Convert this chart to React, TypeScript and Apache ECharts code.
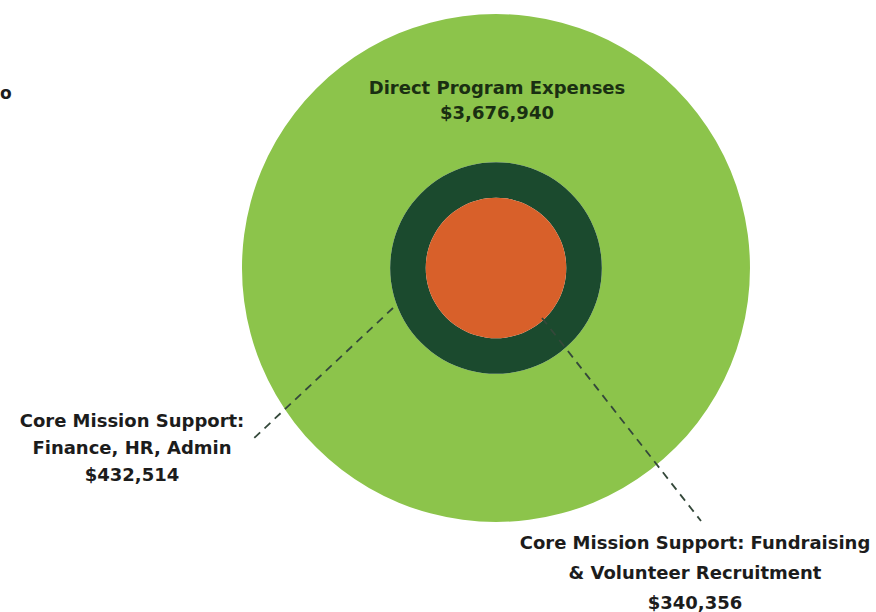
import React, { useEffect, useRef } from "react";
import * as echarts from "echarts";

// Data
const categories = [
  "Direct Program Expenses",
  "Core Mission Support: Finance, HR, Admin",
  "Core Mission Support: Fundraising & Volunteer Recruitment",
];
const values = [3676940, 432514, 340356];
const labelLines = [
  ["Direct Program Expenses"],
  ["Core Mission Support:", "Finance, HR, Admin"],
  ["Core Mission Support: Fundraising", "& Volunteer Recruitment"],
];
const colors = ["#8cc44b", "#1b4a2e", "#d8602a"];

const fmt = (v: number) => "$" + v.toLocaleString("en-US");

export default function App() {
  const ref = useRef<HTMLDivElement>(null);
  useEffect(() => {
    if (!ref.current) return;
    const chart = echarts.init(ref.current, undefined, { renderer: "svg" });
    const total = values.reduce((a, b) => a + b, 0);
    const R = 254;
    const cx = 496;
    const cy = 268;
    // from innermost to outermost: index 2, 1, 0
    const order = [2, 1, 0];
    let cum = 0;
    let prevR = 0;
    const series: any[] = [];
    order.forEach((idx, k) => {
      cum += values[idx];
      const r = R * Math.sqrt(cum / total);
      series.push({
        type: "pie",
        center: [cx, cy],
        radius: [prevR, r],
        silent: true,
        animation: false,
        label: { show: false },
        labelLine: { show: false },
        emphasis: { disabled: true },
        itemStyle: { borderWidth: 0 },
        z: 4 - k,
        data: [{ name: categories[idx], value: values[idx], itemStyle: { color: colors[idx] } }],
      });
      prevR = r;
    });

    const font = (s: number) => `bold ${s}px "DejaVu Sans", sans-serif`;
    const mkText = (idx: number, x: number, y: number, lh: number, fill: string) => ({
      type: "text",
      z: 100,
      style: {
        text: [...labelLines[idx], fmt(values[idx])].join("\n"),
        x,
        y,
        textAlign: "center",
        textVerticalAlign: "middle",
        font: font(18),
        lineHeight: lh,
        fill,
      },
    });

    chart.setOption({
      animation: false,
      series,
      graphic: [
        {
          type: "line",
          z: 90,
          shape: { x1: 393, y1: 308, x2: 252, y2: 440 },
          style: { stroke: "#34483a", lineWidth: 1.8, lineDash: [8, 6] },
        },
        {
          type: "line",
          z: 90,
          shape: { x1: 542, y1: 318, x2: 701, y2: 521 },
          style: { stroke: "#34483a", lineWidth: 1.8, lineDash: [8, 6] },
        },
        mkText(0, 497, 100, 25, "#1a2f12"),
        mkText(1, 132, 447, 27, "#1c1c1c"),
        mkText(2, 695, 572, 30, "#1c1c1c"),
        {
          type: "text",
          z: 100,
          style: { text: "o", x: 0, y: 93, textVerticalAlign: "middle", font: font(17), fill: "#1c1c1c" },
        },
      ],
    });
    return () => chart.dispose();
  }, []);
  return (
    <div
      ref={ref}
      style={{ position: "fixed", left: 0, top: 0, width: 876, height: 612, background: "#ffffff" }}
    />
  );
}
